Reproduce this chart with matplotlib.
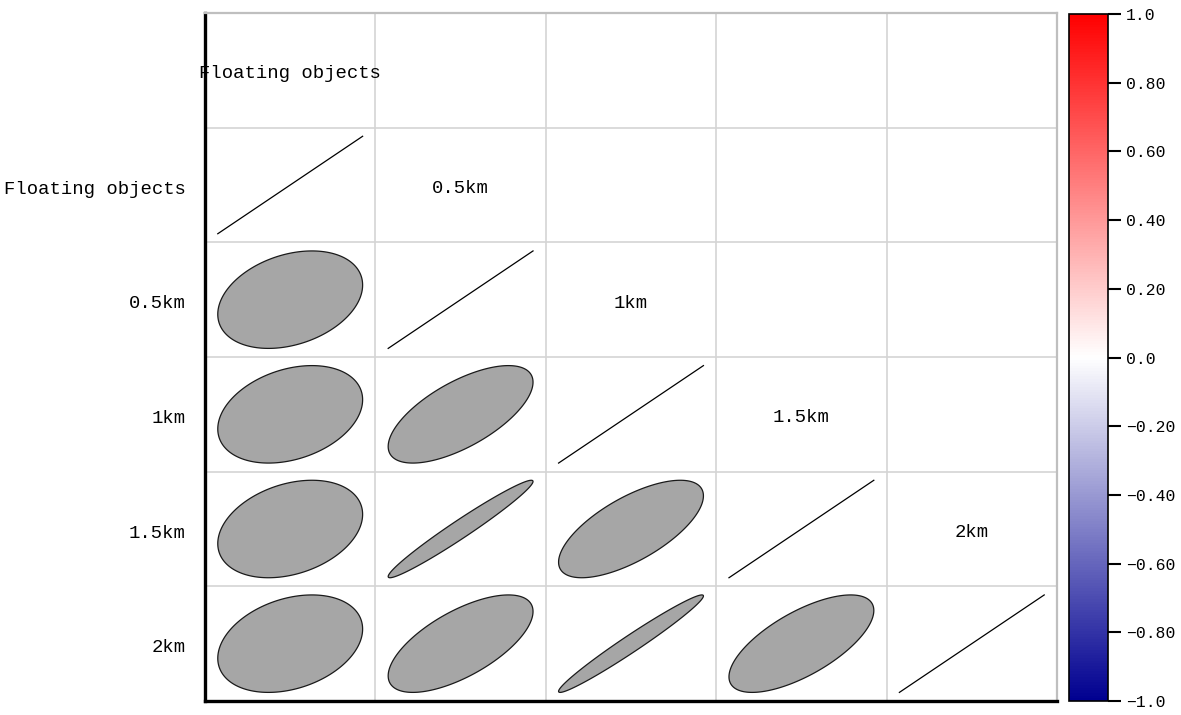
import numpy as np
import matplotlib
matplotlib.use("Agg")
import matplotlib.pyplot as plt
from matplotlib.colors import LinearSegmentedColormap, Normalize
from matplotlib.colorbar import ColorbarBase

variables = ["Floating objects", "0.5km", "1km", "1.5km", "2km"]
# lower-triangle correlations: (row variable, column variable, r)
pair_rows = ["0.5km", "1km", "1km", "1.5km", "1.5km", "1.5km", "2km", "2km", "2km", "2km"]
pair_cols = ["Floating objects", "Floating objects", "0.5km", "Floating objects", "0.5km", "1km",
             "Floating objects", "0.5km", "1km", "1.5km"]
pair_r = [0.30, 0.30, 0.66, 0.30, 0.975, 0.68, 0.30, 0.66, 0.978, 0.68]
cbar_ticks = [1.0, 0.8, 0.6, 0.4, 0.2, 0.0, -0.2, -0.4, -0.6, -0.8, -1.0]
cbar_labels = ["1.0", "0.80", "0.60", "0.40", "0.20", "0.0", "\u22120.20", "\u22120.40",
               "\u22120.60", "\u22120.80", "\u22121.0"]

FONT = "Liberation Mono"
W, H = 1181, 715
fig = plt.figure(figsize=(W / 100, H / 100), dpi=100)
ax = fig.add_axes([205 / W, 1 - 701 / H, (1057 - 205) / W, (701 - 13) / H])

n = len(variables)
nrows = n + 1
ax.set_xlim(0, n)
ax.set_ylim(nrows, 0)

# grid
for c in range(1, n):
    ax.axvline(c, color="#d4d4d4", lw=1.2, zorder=0)
for r in range(1, nrows):
    ax.axhline(r, color="#d4d4d4", lw=1.2, zorder=0)

s = 0.425
t = np.linspace(0, 2 * np.pi, 300)


def ellipse_xy(r, cx, cy):
    a = np.arccos(np.clip(r, -1, 1)) / 2
    x = cx + s * np.cos(t + a)
    y = cy - s * np.cos(t - a)
    return x, y


# diagonal lines (r = 1)
for i in range(n):
    row, col = i + 1, i
    ax.plot([col + 0.5 - s, col + 0.5 + s], [row + 0.5 + s, row + 0.5 - s], color="black", lw=0.9)

# ellipses
for rv, cv, r in zip(pair_rows, pair_cols, pair_r):
    row = variables.index(rv) + 1
    col = variables.index(cv)
    x, y = ellipse_xy(r, col + 0.5, row + 0.5)
    ax.fill(x, y, facecolor="#a6a6a6", edgecolor="#1a1a1a", lw=0.9)

# labels on the upper diagonal
for i, v in enumerate(variables):
    ax.text(i + 0.5, i + 0.53, v, ha="center", va="center", fontsize=13.6, family=FONT, color="black")

ax.set_xticks([])
ax.set_yticks([r + 0.52 for r in range(1, nrows)])
ax.set_yticklabels(variables, fontsize=13.6, family=FONT, color="black")
ax.tick_params(axis="y", length=0, pad=14)

for side in ["top", "right"]:
    ax.spines[side].set_color("#bfbfbf")
    ax.spines[side].set_linewidth(1.6)
for side in ["left", "bottom"]:
    ax.spines[side].set_color("black")
    ax.spines[side].set_linewidth(2.4)

# colorbar
cmap = LinearSegmentedColormap.from_list("bwr2", ["#000090", "#ffffff", "#ff0000"])
cax = fig.add_axes([1069 / W, 1 - 701 / H, (1108 - 1069) / W, (701 - 14) / H])
cb = ColorbarBase(cax, cmap=cmap, norm=Normalize(-1, 1), orientation="vertical")
cb.set_ticks(cbar_ticks)
cb.set_ticklabels(cbar_labels)
cax.tick_params(length=9, width=1.5, pad=4, labelsize=11.8, color="black")
for lab in cax.get_yticklabels():
    lab.set_family(FONT)
    lab.set_color("black")
cb.outline.set_linewidth(1.2)
cb.outline.set_edgecolor("black")

fig.savefig("out.png", dpi=100)
